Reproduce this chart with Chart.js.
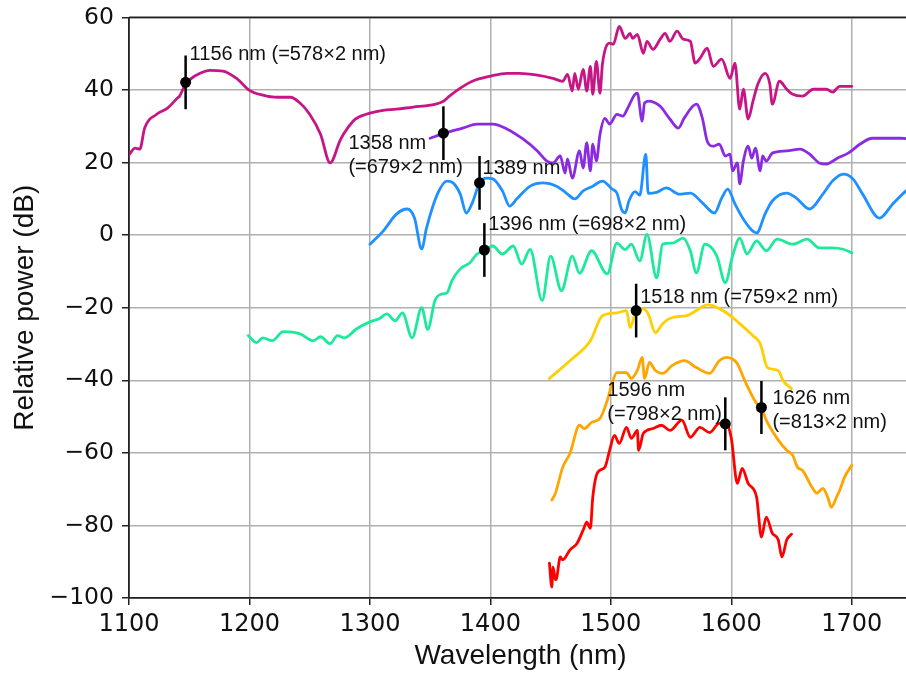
<!DOCTYPE html>
<html><head><meta charset="utf-8">
<script src="https://cdn.jsdelivr.net/npm/chart.js@4.4.1/dist/chart.umd.min.js"></script>
<style>html,body{margin:0;padding:0;overflow:hidden;background:#fff;width:906px;height:673px}canvas{display:block}</style>
</head><body><canvas id="c" width="912" height="673"></canvas>
<script>
// ---- data (wavelength in nm, relative power in dB) ----
const magentaNm=[1100,1105,1109,1113,1123,1132,1140,1142,1146,1151,1159,1167,1178,1190,1200,1211,1223,1234,1242,1250,1259,1267,1275,1278,1286,1289,1300,1311,1322,1336,1350,1361,1366,1375,1385,1400,1414,1424,1439,1452,1460,1464,1468,1470,1473,1477,1480,1483,1485,1488,1491,1493,1499,1502,1507,1512,1516,1518,1522,1527,1530,1535,1541,1545,1549,1555,1560,1566,1570,1574,1580,1585,1592,1599,1603,1607,1610,1614,1618,1622,1628,1632,1634,1640,1646,1651,1659,1668,1679,1684,1690,1700];
const magentaDb=[22.1,24.0,23.7,29.5,33.3,35.0,37.7,38.3,41.0,43.0,44.6,45.4,45.2,43.0,39.9,38.6,38.0,38.0,36.4,33.3,27.8,19.9,25.9,27.8,31.4,32.2,33.6,34.4,34.7,35.3,35.8,36.9,38.3,40.5,42.4,43.8,44.6,44.6,44.1,43.2,42.4,44.3,39.7,44.6,40.2,45.7,39.7,46.5,38.8,47.9,39.1,47.1,52.9,52.6,57.5,54.2,55.6,54.2,55.3,50.1,53.4,51.2,54.0,55.6,53.4,56.2,54.0,53.4,47.4,48.7,51.5,46.5,48.5,43.2,47.4,34.7,40.2,32.0,36.9,41.6,44.6,41.6,36.1,42.4,40.2,38.8,38.3,40.2,40.2,39.4,41.0,41.0];

const purpleNm=[1350,1362,1377,1389,1402,1414,1427,1439,1447,1452,1458,1462,1464,1468,1474,1477,1480,1483,1485,1488,1491,1495,1499,1505,1510,1514,1520,1522,1526,1528,1532,1537,1541,1549,1556,1561,1571,1576,1580,1585,1590,1595,1599,1601,1605,1607,1610,1614,1617,1620,1624,1626,1629,1634,1646,1657,1665,1673,1679,1688,1697,1707,1717,1729,1740,1750];
const purpleDb=[26.7,28.1,29.5,30.6,30.6,29.2,26.5,23.2,20.4,19.9,21.8,17.1,21.0,15.7,23.2,18.5,25.4,17.7,25.1,20.4,27.8,32.2,30.6,33.3,32.8,35.0,38.8,39.1,31.4,36.4,36.9,36.4,35.5,32.0,29.5,32.3,36.1,32.2,25.9,24.5,25.1,21.8,22.3,17.7,19.9,14.1,20.4,24.5,21.2,24.0,17.7,21.8,20.4,22.6,23.2,23.7,22.3,19.9,19.6,21.2,22.6,25.1,26.7,26.7,26.7,26.5];

const blueNm=[1300,1311,1322,1331,1337,1343,1347,1356,1364,1369,1375,1380,1385,1391,1397,1402,1410,1416,1422,1433,1444,1455,1463,1470,1477,1485,1493,1501,1505,1509,1512,1515,1520,1524,1529,1531,1538,1546,1557,1566,1576,1586,1592,1597,1603,1611,1621,1628,1634,1646,1654,1665,1676,1684,1693,1701,1709,1723,1734,1745,1750];
const blueDb=[-2.5,1.1,5.8,7.2,4.7,-3.8,2.0,11.3,14.9,14.4,11.3,6.1,8.9,14.4,15.7,15.5,12.2,8.0,10.0,13.5,14.4,13.5,11.6,10.0,12.2,13.5,14.9,12.7,11.6,7.0,6.1,9.4,12.0,11.0,22.3,11.5,11.8,13.0,11.3,11.6,8.9,6.1,10.2,12.7,8.6,3.9,0.6,5.8,9.4,11.6,10.2,7.2,11.3,14.9,16.8,15.5,11.3,4.7,8.6,12.2,13.5];

const greenNm=[1199,1206,1211,1219,1228,1242,1253,1259,1267,1273,1279,1289,1300,1308,1314,1321,1327,1335,1343,1348,1354,1360,1364,1368,1375,1383,1389,1395,1402,1410,1419,1426,1433,1443,1450,1459,1468,1474,1484,1497,1505,1512,1517,1524,1530,1538,1543,1551,1560,1566,1571,1578,1588,1595,1601,1607,1613,1621,1629,1638,1651,1663,1673,1684,1693,1700];
const greenDb=[-27.7,-29.6,-28.3,-29.1,-26.6,-27.2,-29.1,-28.0,-29.9,-27.7,-28.3,-25.8,-23.9,-23.0,-21.7,-23.6,-21.4,-28.3,-20.0,-26.0,-18.0,-16.2,-15.9,-12.6,-9.3,-7.6,-5.2,-4.3,-3.0,-5.2,-3.0,-8.0,-3.9,-18.0,-5.8,-15.3,-5.8,-10.5,-4.3,-10.7,-2.2,-4.0,-2.5,-7.1,0.2,-11.8,-2.5,-2.2,-0.8,-4.3,-10.4,-2.5,-5.8,-13.1,-5.8,-0.8,-5.2,-1.6,-4.3,-1.1,-2.5,-1.1,-3.5,-3.5,-3.9,-4.9];

const goldNm=[1449,1466,1483,1493,1505,1513,1516,1521,1527,1531,1537,1543,1551,1563,1571,1580,1585,1596,1607,1618,1624,1630,1639,1643,1650];
const goldDb=[-39.5,-34.6,-29.1,-22.2,-21.4,-20.8,-25.5,-20.9,-20.3,-21.7,-26.9,-24.4,-22.7,-22.2,-20.8,-19.2,-19.5,-21.4,-24.4,-27.7,-29.9,-36.5,-37.3,-40.1,-42.3];

const orangeNm=[1451,1454,1460,1466,1474,1478,1484,1491,1497,1501,1505,1513,1517,1522,1526,1528,1532,1537,1543,1551,1561,1571,1582,1590,1596,1605,1610,1615,1621,1625,1629,1638,1646,1651,1655,1659,1667,1671,1676,1680,1683,1688,1690,1694,1700];
const orangeDb=[-73.0,-71.1,-64.0,-60.2,-52.4,-53.3,-51.6,-50.5,-45.6,-40.9,-37.9,-37.9,-39.5,-37.3,-33.7,-39.5,-35.1,-37.3,-38.1,-35.9,-34.6,-36.5,-38.1,-34.6,-33.7,-35.4,-39.2,-42.8,-46.4,-47.5,-51.0,-56.0,-59.3,-60.7,-64.0,-64.8,-69.5,-71.1,-69.8,-72.2,-75.0,-71.7,-70.3,-66.7,-63.4];

const redNm=[1449,1451,1452,1454,1455,1458,1460,1466,1472,1477,1480,1483,1485,1489,1495,1499,1503,1507,1513,1517,1522,1523,1527,1535,1542,1549,1559,1566,1574,1582,1590,1596,1600,1605,1609,1614,1621,1625,1629,1634,1639,1642,1646,1650];
const redDb=[-90.4,-97.0,-91.5,-95.0,-94.6,-88.7,-89.5,-86.8,-84.9,-81.3,-79.1,-80.8,-72.2,-65.4,-64.0,-59.3,-55.2,-57.4,-53.0,-56.0,-53.8,-59.3,-54.6,-53.3,-52.4,-53.8,-51.0,-55.7,-53.0,-54.4,-51.9,-52.0,-56.0,-68.4,-64.3,-68.4,-72.2,-83.2,-77.7,-82.1,-84.0,-88.7,-84.0,-82.4];

// marked points with vertical bars
const markerNm=[1147,1361,1391,1395,1521,1595,1625];
const markerDb=[42.1,28.1,14.4,-4.1,-20.8,-52.0,-47.5];
const markerErr=[7.4,7.4,7.4,7.4,7.4,7.3,7.3];
const markerLabels=[["1156 nm (=578×2 nm)"],["1358 nm","(=679×2 nm)"],["1389 nm"],["1396 nm (=698×2 nm)"],["1518 nm (=759×2 nm)"],["1596 nm","(=798×2 nm)"],["1626 nm","(=813×2 nm)"]];

const xTickValues=[1100,1200,1300,1400,1500,1600,1700];
const yTickValues=[-100,-80,-60,-40,-20,0,20,40,60];

// ---- styling (kept separate from data) ----
const labelOffsets=[[4,-28],[-95,10],[3,-14],[4,-26],[4,-13],[-118,-33],[11,-9]];
const labelLineGap=24;

function pts(xs,ys){const n=Math.min(xs.length,ys.length);const o=[];for(let i=0;i<n;i++)o.push({x:xs[i],y:ys[i]});return o;}
function line(xs,ys,color){return {type:'line',data:pts(xs,ys),borderColor:color,borderWidth:2.8,pointRadius:0,fill:false,cubicInterpolationMode:'monotone',borderJoinStyle:'round',borderCapStyle:'round'};}

const markerPlugin={
  id:'markers',
  afterDatasetsDraw(chart){
    const ctx=chart.ctx, xs=chart.scales.x, ys=chart.scales.y;
    ctx.save();
    for(let i=0;i<markerNm.length;i++){
      const px=xs.getPixelForValue(markerNm[i]);
      const py=ys.getPixelForValue(markerDb[i]);
      const y1=ys.getPixelForValue(markerDb[i]+markerErr[i]);
      const y2=ys.getPixelForValue(markerDb[i]-markerErr[i]);
      ctx.strokeStyle='#000';ctx.lineWidth=2.5;
      ctx.beginPath();ctx.moveTo(px,y1);ctx.lineTo(px,y2);ctx.stroke();
      ctx.fillStyle='#000';
      ctx.beginPath();ctx.arc(px,py,5.5,0,Math.PI*2);ctx.fill();
      ctx.font='20px "Liberation Sans", Arial, sans-serif';
      ctx.textAlign='left';ctx.textBaseline='middle';ctx.fillStyle='#111';
      const [dx,dy]=labelOffsets[i];
      markerLabels[i].forEach((t,k)=>ctx.fillText(t,px+dx,py+dy+k*labelLineGap));
    }
    ctx.restore();
  },
  afterDraw(chart){
    const ctx=chart.ctx,a=chart.chartArea;
    ctx.save();ctx.strokeStyle='#222';ctx.lineWidth=1.8;
    ctx.beginPath();ctx.moveTo(a.left,a.top);ctx.lineTo(chart.width,a.top);ctx.stroke();
    ctx.restore();
  }
};

new Chart(document.getElementById('c'),{
  data:{datasets:[
    line(magentaNm,magentaDb,'#c71585'),
    line(purpleNm,purpleDb,'#8a2be2'),
    line(blueNm,blueDb,'#1e90ff'),
    line(greenNm,greenDb,'#1de99b'),
    line(goldNm,goldDb,'#ffcf00'),
    line(orangeNm,orangeDb,'#ffa500'),
    line(redNm,redDb,'#ff0000')
  ]},
  options:{
    responsive:false,animation:false,devicePixelRatio:1,
    layout:{padding:{top:16,right:0,left:0,bottom:0}},
    plugins:{legend:{display:false},tooltip:{enabled:false}},
    scales:{
      x:{type:'linear',min:1100,max:1750,
        afterBuildTicks:s=>{s.ticks=xTickValues.map(v=>({value:v}));},
        afterFit:s=>{s.height=75;},
        grid:{color:'#b0b0b0',lineWidth:1.5,tickColor:'#222',tickLength:7,tickWidth:1.5},
        border:{color:'#222',width:1.8},
        ticks:{font:{family:'DejaVu Sans',size:24},color:'#111',padding:5,maxRotation:0,autoSkip:false,callback:v=>String(v)},
        title:{display:true,text:'Wavelength (nm)',font:{family:'Liberation Sans',size:28},color:'#111',padding:0}
      },
      y:{type:'linear',min:-100,max:60,
        afterBuildTicks:s=>{s.ticks=yTickValues.map(v=>({value:v}));},
        afterFit:s=>{s.width=129;},
        grid:{color:'#b0b0b0',lineWidth:1.5,tickColor:'#222',tickLength:7,tickWidth:1.5},
        border:{color:'#222',width:1.8},
        ticks:{font:{family:'DejaVu Sans',size:23.5,lineHeight:0.8},color:'#111',padding:8,callback:v=>v<0?'\u2212'+Math.abs(v):String(v)},
        title:{display:true,text:'Relative power (dB)',font:{family:'Liberation Sans',size:28},color:'#111',padding:{top:8,bottom:0}}
      }
    }
  },
  plugins:[markerPlugin]
});
</script></body></html>
